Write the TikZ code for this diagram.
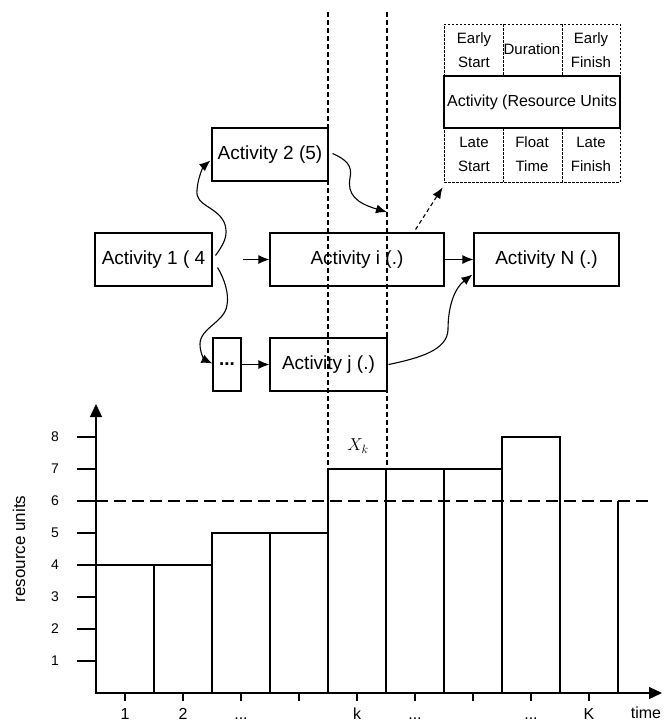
\documentclass[tikz,border=0pt]{standalone}
\usepackage[no-math]{fontspec}
\setmainfont{Liberation Sans}
\usetikzlibrary{arrows.meta,calc}
\begin{document}
\begin{tikzpicture}[x=1pt,y=-1pt,
  act/.style={draw,line width=1.1pt,minimum height=53pt,inner sep=0pt,font=\fontsize{19}{21}\selectfont},
  conn/.style={line width=1.1pt,-{Latex[length=11pt,width=9pt]}},
  legtxt/.style={align=center,inner sep=0pt,font=\fontsize{15}{24}\selectfont},
  bar/.style={line width=1.1pt},
  vdash/.style={line width=1.1pt,dash pattern=on 5pt off 3pt},
  axisarrow/.style={line width=1.3pt,-{Triangle[length=13pt,width=12pt]}},
  numlab/.style={inner sep=0pt,font=\fontsize{14}{16}\selectfont},
  xlab/.style={inner sep=0pt,anchor=base,font=\fontsize{16}{18}\selectfont}]
\useasboundingbox (0,0) rectangle (666,721);

% ---------- network ----------
\node[act,minimum width=117pt] (a1) at (153.5,259.5) {Activity 1 ( 4};
\node[act,minimum width=116pt] (a2) at (270,154.5) {Activity 2 (5)};
\node[act,minimum width=174pt] (ai) at (357,259.5) {Activity i (.)};
\node[act,minimum width=145pt] (aN) at (546.5,259.5) {Activity N (.)};
\node[act,minimum width=28pt] (dots) at (227,364.5) {\textbf{...}};
\node[act,minimum width=117pt] (aj) at (328.5,364.5) {Activity j (.)};

% legend box
\node[draw,line width=0.9pt,dash pattern=on 2.5pt off 1.5pt,minimum width=176pt,minimum height=158pt,inner sep=0pt] (leg) at (532,103) {};
\draw[line width=0.9pt,dash pattern=on 2.5pt off 1.5pt] (503,24) -- (503,76) (562,24) -- (562,76)
  (503,128) -- (503,182) (562,128) -- (562,182);
\node[draw,line width=2.2pt,minimum width=176pt,minimum height=52pt,inner sep=0pt,font=\fontsize{16}{18}\selectfont] (legmid) at (532,102) {Activity (Resource Units};
\node[legtxt] (es) at (474,50) {Early\\Start};
\node[legtxt] (du) at (532,49) {Duration};
\node[legtxt] (ef) at (591,50) {Early\\Finish};
\node[legtxt] (ls) at (474,154) {Late\\Start};
\node[legtxt] (ft) at (532,154) {Float\\Time};
\node[legtxt] (lf) at (591,154) {Late\\Finish};

% dashed time lines
\draw[vdash] (328,12) -- (328,469);
\draw[vdash] (387,12) -- (387,469);

% connectors
\coordinate (t3) at (387,212);
\draw[conn] ($(a1.east)+(30,0)$) -- (ai.west);
\draw[conn] (dots.east) -- (aj.west);
\draw[conn] (ai.east) -- (aN.west);
\draw[conn] ($(a1.east)+(3,-4)$) .. controls (222,246) and (230,236) .. (224,222)
  .. controls (216,206) and (195,206) .. (197,190)
  .. controls (198,176) and (204,166) .. ($(a2.west)+(-1,6)$);
\draw[conn] ($(a1.east)+(5,8)$) .. controls (225,280) and (229,294) .. (227,305)
  .. controls (225,322) and (200,328) .. (200,344)
  .. controls (200,354) and (205,360) .. ($(dots.west)+(0,-1)$);
\draw[conn] ($(a2.east)+(4,-1)$) .. controls (345,159) and (353,165) .. (350,178)
  .. controls (347,194) and (356,203) .. (t3);
\draw[conn] ($(aj.east)+(1,0)$) .. controls (420,358) and (447,350) .. (448,330)
  .. controls (448,305) and (455,288) .. ($(aN.west)+(-1,15)$);
\draw[line width=1.1pt,dash pattern=on 4pt off 3pt,-{Latex[length=11pt,width=9pt]}]
  ($(ai.north east)+(-29,-3)$) -- ($(leg.south west)+(-1,5)$);

% ---------- chart ----------
\foreach \xa/\h in {96/4,154/4,212/5,270/5,328/7,386/7,444/7,502/8}
  \draw[bar] (\xa,693) rectangle ({\xa+58},{693-32*\h});
\draw[bar] (618,693) -- (618,501);
\draw[line width=2.4pt,dash pattern=on 12pt off 6pt] (96,501) -- (652,501);

\coordinate (origin) at (96,693);
\coordinate (ytop) at (96,404);
\coordinate (xend) at (662,693);
\draw[axisarrow] (origin) -- (ytop);
\draw[axisarrow] (origin) -- (xend);

\foreach \k in {1,...,8} {
  \draw[line width=1.3pt] (77,{693-32*\k}) -- (96,{693-32*\k});
  \node[numlab] (ylab\k) at (55,{693-32*\k}) {\k};
}
\foreach \i in {0,...,8}
  \draw[line width=1.3pt] ({125+58*\i},693) -- ({125+58*\i},701);
\node[xlab] (xl1) at (125,719) {1};
\node[xlab] (xl2) at (183,719) {2};
\node[xlab] (xl3) at (241,719) {...};
\node[xlab] (xlk) at (357,719) {k};
\node[xlab] (xl5) at (415,719) {...};
\node[xlab] (xl7) at (531,719) {...};
\node[xlab] (xlK) at (589,719) {K};
\node[xlab] (time) at (646,718) {time};
\node[rotate=90,inner sep=0pt,font=\fontsize{17}{19}\selectfont] (ylabel) at (19,549) {resource units};
\node[inner sep=0pt,font=\fontsize{17}{19}\selectfont] (xk) at (358,446) {$X_k$};
\end{tikzpicture}
\end{document}
